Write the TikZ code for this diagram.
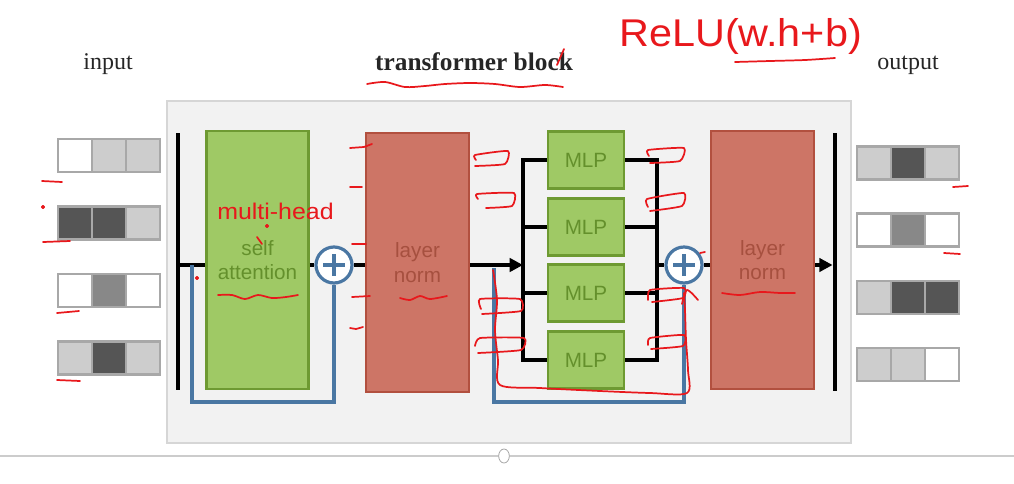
\documentclass[tikz,border=0pt]{standalone}
\usepackage{fontspec}
\setmainfont{Liberation Sans}
\newfontfamily\titlefont{Liberation Serif}
\usetikzlibrary{arrows.meta,calc,shapes.geometric}
\definecolor{panelbg}{HTML}{F2F2F2}
\definecolor{panelbd}{HTML}{D6D6D6}
\definecolor{gfill}{HTML}{9FC965}
\definecolor{gbd}{HTML}{6E9A32}
\definecolor{gtext}{HTML}{64902C}
\definecolor{rfill}{HTML}{CD7566}
\definecolor{rbd}{HTML}{B2503F}
\definecolor{rtext}{HTML}{A6503F}
\definecolor{resblue}{HTML}{4A77A3}
\definecolor{ink}{HTML}{E8181C}
\definecolor{cw}{HTML}{FFFFFF}
\definecolor{cl}{HTML}{CDCDCD}
\definecolor{cm}{HTML}{888888}
\definecolor{cd}{HTML}{555555}
\definecolor{cellbd}{HTML}{A8A8A8}
\definecolor{divider}{HTML}{CCCCCC}
\tikzset{
  cell/.style={draw=cellbd, line width=1.8pt, minimum width=25.5pt, minimum height=24.75pt, inner sep=0pt, outer sep=0pt},
  bar/.style={fill=black, inner sep=0pt, minimum width=3.2pt},
  gbox/.style={draw=gbd, fill=gfill, line width=2pt, text=gtext, align=center, inner sep=0pt,
    font=\fontsize{15.5}{18.5}\selectfont},
  rbox/.style={draw=rbd, fill=rfill, line width=2pt, text=rtext, align=center, inner sep=0pt,
    font=\fontsize{15.5}{18.5}\selectfont},
  plus/.style={circle, draw=resblue, line width=2.4pt, fill=white, minimum size=27pt, inner sep=0pt,
    path picture={\draw[resblue, line width=2.4pt]
      ($(path picture bounding box.center)+(-11,0)$) -- ++(22,0)
      ($(path picture bounding box.center)+(0,-11)$) -- ++(0,22);}},
  flow/.style={draw=black, line width=2.8pt},
  tip/.style={-{Triangle[length=10pt,width=10pt]}},
  res/.style={draw=resblue, line width=2.3pt},
  ttl/.style={font=\titlefont\fontsize{18}{22}\selectfont, text=black!85, anchor=base},
  ink/.style={draw=ink, line width=1.3pt, line cap=round, line join=round},
  hand/.style={text=ink, inner sep=0pt, anchor=base west},
}
\begin{document}
\begin{tikzpicture}[x=0.75pt,y=-0.75pt]
\useasboundingbox (0,0) rectangle (1014,483);

% divider at bottom
\coordinate (divL) at (0,456);
\coordinate (divR) at (1014,456);
\draw[divider, line width=0.9pt] (divL) -- (divR);
\node[ellipse, draw=gray!70, fill=white, line width=0.6pt, minimum width=8pt, minimum height=10.5pt, inner sep=0pt] (handle) at (504,456) {};

% panel
\node[draw=panelbd, fill=panelbg, line width=1.5pt, minimum width=513pt, minimum height=256.5pt, inner sep=0pt] (panel) at (509,272) {};

% titles
\node[ttl] (tin) at (108,69) {input};
\node[ttl, font=\titlefont\bfseries\fontsize{19}{22}\selectfont] (tblock) at (474,70) {transformer block};
\node[ttl] (tout) at (908,69) {output};

% input / output vectors
\foreach \r/\y/\a/\b/\c in {1/155.5/cw/cl/cl, 2/223/cd/cd/cl, 3/290.5/cw/cm/cw, 4/358/cl/cd/cl}{
  \node[cell, fill=\a] (in\r-a) at (75,\y) {};
  \node[cell, fill=\b] (in\r-b) at (109,\y) {};
  \node[cell, fill=\c] (in\r-c) at (143,\y) {};
}
\foreach \r/\y/\a/\b/\c in {1/163/cl/cd/cl, 2/230/cw/cm/cw, 3/297.5/cl/cd/cd, 4/364.5/cl/cl/cw}{
  \node[cell, fill=\a] (out\r-a) at (874,\y) {};
  \node[cell, fill=\b] (out\r-b) at (908,\y) {};
  \node[cell, fill=\c] (out\r-c) at (942,\y) {};
}

% bars
\node[bar, minimum height=192.75pt] (lbar) at (178,261) {};
\node[bar, minimum height=193.5pt] (rbar) at (835,262) {};

% blocks
\node[gbox, minimum width=76.5pt, minimum height=193.5pt] (sa) at (257.5,260) {self\\attention};
\node[rbox, minimum width=77.25pt, minimum height=194.25pt] (ln1) at (417.5,262.5) {layer\\norm};
\node[rbox, minimum width=77.25pt, minimum height=193.5pt] (ln2) at (762.5,260) {layer\\norm};
\foreach \i/\y in {1/160,2/227,3/293,4/360}{
  \node[gbox, minimum width=57pt, minimum height=42.75pt] (m\i) at (586,\y) {MLP};
}
\node[plus] (p1) at (334,265) {};
\node[plus] (p2) at (684,265) {};

% coordinates of the main flow
\coordinate (mainy) at (0,265);
\coordinate (split) at (523,265);
\coordinate (merge) at (657,265);
\coordinate (r1) at (192,265);
\coordinate (r1b) at (192,402);
\coordinate (r2) at (494,268);
\coordinate (r2b) at (494,402);

% main flow connectors
\draw[flow] (lbar.east |- mainy) -- (sa.west |- mainy);
\draw[flow] (sa.east |- mainy) -- (p1.west);
\draw[flow] (p1.east) -- (ln1.west |- mainy);
\draw[flow, tip] (ln1.east |- mainy) -- (split);
\draw[flow, line cap=rect] (split |- m1) -- (split |- m4);
\draw[flow, line cap=rect] (merge |- m1) -- (merge |- m4);
\foreach \i in {1,2,3,4}{
  \draw[flow] (split |- m\i) -- (m\i.west);
  \draw[flow] (m\i.east) -- (merge |- m\i);
}
\draw[flow] (merge) -- (p2.west);
\draw[flow] (p2.east) -- (ln2.west |- mainy);
\draw[flow, tip] (ln2.east |- mainy) -- (rbar.west |- mainy);

% residual connections
\draw[res] (r1) -- (r1b) -| (p1.south);
\draw[res] (r2) -- (r2b) -| (p2.south);

% ---------- red handwritten annotations ----------
\node[hand, font=\fontsize{29}{32}\selectfont, xscale=1.07] (relu) at (619,46) {ReLU(w.h+b)};
\node[hand, font=\fontsize{17}{20}\selectfont, xscale=1.1] (mh) at (217,219) {multi-head};

% underlines / squiggles
\draw[ink] plot[smooth] coordinates {(367,84) (385,82) (405,87) (425,86) (445,84) (470,83) (495,84) (520,87) (545,85) (563,87)};
\draw[ink] plot[smooth] coordinates {(735,62) (770,61) (805,60) (835,58)};
\draw[ink] (557,65) -- (564,49);
\draw[ink] plot[smooth] coordinates {(218,295) (232,295) (245,299) (258,295) (272,298) (286,297) (298,295)};
\draw[ink] plot[smooth] coordinates {(400,298) (410,300) (420,296) (430,299) (447,296)};
\draw[ink] plot[smooth] coordinates {(722,293) (740,295) (760,292) (780,293) (795,293)};
\draw[ink] (257,237) -- (262,244);
\fill[ink] (267,226) circle (1.2);
\fill[ink] (197,278) circle (1.2);
\fill[ink] (43,207) circle (1.2);

% short dashes by the vectors
\draw[ink] (42,181) -- (62,182);
\draw[ink] (43,242) -- (70,241);
\draw[ink] (57,313) -- (79,311);
\draw[ink] (57,380) -- (80,381);
\draw[ink] (953,187) -- (968,186);
\draw[ink] (944,253) -- (960,254);
\draw[ink] (700,253) -- (705,252);

% dashes left of the first layer norm
\draw[ink] (350,148) -- (364,147) -- (372,144);
\draw[ink] (350,187) -- (362,187);
\draw[ink] (352,244) -- (366,244);
\draw[ink] (352,297) -- (370,296);
\draw[ink] (350,328) -- (356,329) -- (363,327);

% rough boxes left of the MLPs
\draw[ink] plot[smooth, tension=0.3] coordinates {(476,160) (475,155) (508,151) (505,164) (475,166)};
\draw[ink] plot[smooth, tension=0.3] coordinates {(478,199) (477,194) (514,193) (512,206) (486,208)};
\draw[ink] plot[smooth, tension=0.3] coordinates {(481,309) (480,299) (520,299) (521,311) (482,314)};
\draw[ink] plot[smooth, tension=0.3] coordinates {(475,346) (480,338) (524,338) (521,350) (478,353)};
% rough boxes right of the MLPs
\draw[ink] plot[smooth, tension=0.3] coordinates {(649,156) (648,150) (684,148) (680,161) (650,163)};
\draw[ink] plot[smooth, tension=0.3] coordinates {(648,207) (647,199) (684,193) (682,206) (650,211)};
\draw[ink] plot[smooth, tension=0.3] coordinates {(648,300) (650,290) (684,288) (683,298) (652,302)};
\draw[ink] plot[smooth, tension=0.3] coordinates {(648,345) (650,338) (684,335) (683,346) (651,349)};

% big loop over the second residual path
\draw[ink] plot[smooth, tension=0.5] coordinates {(493,270) (497,300) (495,330) (498,360) (500,385) (540,388) (600,391) (650,393) (687,393) (688,370) (686,340) (685,310) (684,293)};
\draw[ink] plot[smooth, tension=0.5] coordinates {(682,304) (687,290) (698,300)};
\end{tikzpicture}
\end{document}
